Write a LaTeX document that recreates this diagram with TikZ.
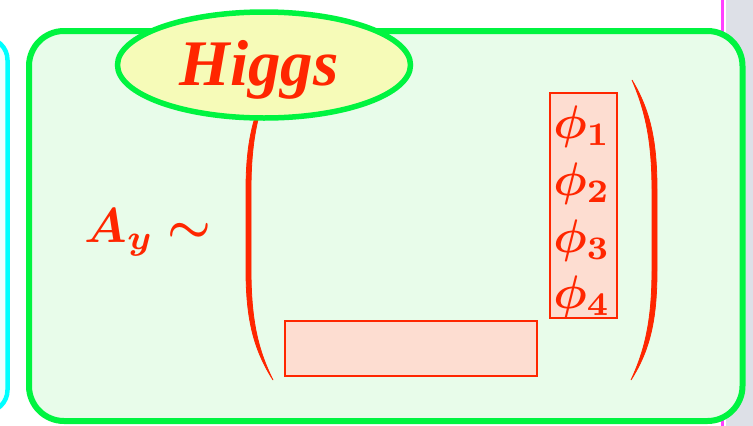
\documentclass[tikz,border=0pt]{standalone}
\usepackage{amsmath}
\usepackage{bm}
\usepackage{fontspec}
\newfontfamily\higgsfont{Liberation Serif}
\usetikzlibrary{shapes.geometric}
\definecolor{hred}{RGB}{255,38,0}
\definecolor{hgreen}{RGB}{0,244,64}
\definecolor{gfill}{RGB}{232,252,234}
\definecolor{yfill}{RGB}{246,251,184}
\definecolor{pfill}{RGB}{253,221,209}
\definecolor{cyanline}{RGB}{0,255,255}
\definecolor{cfill}{RGB}{238,255,254}
\definecolor{magline}{RGB}{255,64,255}
\definecolor{grayback}{RGB}{221,224,231}
\tikzset{
  greenbox/.style={draw=hgreen, fill=gfill, line width=6pt, rounded corners=35pt},
  cyanbox/.style={draw=cyanline, fill=cfill, line width=4.5pt, rounded corners=22pt},
  higgsell/.style={ellipse, draw=hgreen, fill=yfill, line width=5.5pt, inner sep=0pt},
  pinkbox/.style={rectangle, draw=hred, fill=pfill, line width=2pt, inner sep=0pt},
  redtext/.style={text=hred, inner sep=0pt, anchor=base},
  paren/.style={fill=hred, draw=hred, line width=0.8pt}
}
\begin{document}
\begin{tikzpicture}[x=1pt,y=-1pt]
\useasboundingbox (0,0) rectangle (753,426);
\fill[white] (0,0) rectangle (753,426);
\fill[grayback] (726,0) rectangle (753,426);
\draw[magline, line width=3.5pt] (722.5,0) -- (722.5,426);
\draw[cyanbox] (-60,38) rectangle (7.5,412);
\draw[greenbox] (29,31) rectangle (742.5,421);
% left parenthesis
\fill[paren] (272,80) .. controls (254,110) and (246,140) .. (246,190) -- (246,270)
  .. controls (246,320) and (254,350) .. (273,380)
  .. controls (258,350) and (251,320) .. (251,270) -- (251,190)
  .. controls (251,140) and (258,110) .. (272,80) -- cycle;
% right parenthesis
\fill[paren] (632,80) .. controls (650,110) and (657,140) .. (657,190) -- (657,270)
  .. controls (657,320) and (650,350) .. (631,380)
  .. controls (645,350) and (652,320) .. (652,270) -- (652,190)
  .. controls (652,140) and (645,110) .. (632,80) -- cycle;
\node[higgsell, minimum width=293pt, minimum height=106pt] (ell) at (264,65) {};
\node[redtext, scale=6.5, font=\higgsfont\bfseries\itshape] (higgs) at (259,85) {Higgs};
\node[redtext, scale=4.9] (ay) at (148,242) {$\boldsymbol{A_y\sim}$};
\node[pinkbox, minimum width=67pt, minimum height=225pt] (phibox) at (583.5,205.5) {};
\node[pinkbox, minimum width=252pt, minimum height=55pt] (bottombox) at (411,348.5) {};
\node[redtext, scale=4.7] (p1) at (582,138) {$\boldsymbol{\phi_1}$};
\node[redtext, scale=4.7] (p2) at (582,195) {$\boldsymbol{\phi_2}$};
\node[redtext, scale=4.7] (p3) at (582,252) {$\boldsymbol{\phi_3}$};
\node[redtext, scale=4.7] (p4) at (582,308) {$\boldsymbol{\phi_4}$};
\end{tikzpicture}
\end{document}
